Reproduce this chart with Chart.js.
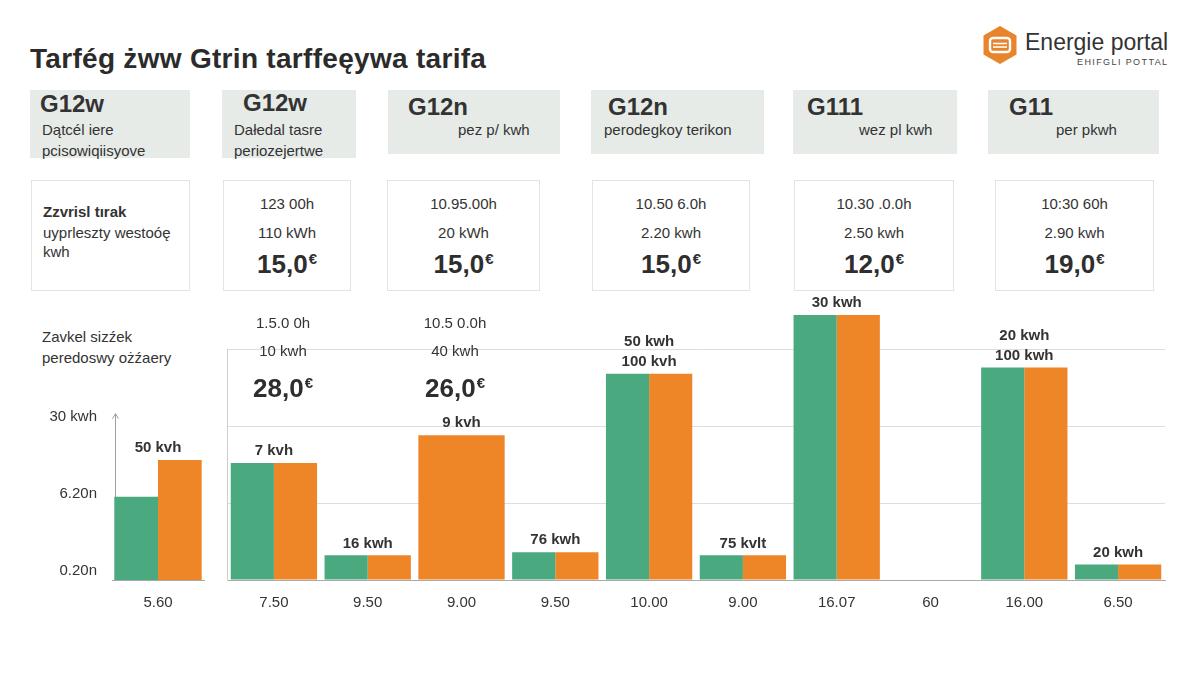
<!DOCTYPE html>
<html><head><meta charset="utf-8">
<script src="https://cdn.jsdelivr.net/npm/chart.js@4/dist/chart.umd.min.js"></script>
<style>
html,body{margin:0;padding:0;background:#fff;}
body{width:1200px;height:675px;position:relative;overflow:hidden;font-family:"Liberation Sans",Arial,sans-serif;color:#333;}
.a{position:absolute;white-space:nowrap;line-height:1;}
.title{left:30px;top:45px;font-size:28px;font-weight:bold;color:#2b2b2b;letter-spacing:0.3px;}
.hbox{position:absolute;background:#e7ebe8;top:90px;}
.code{position:absolute;font-size:24px;font-weight:bold;color:#333;line-height:1;}
.sub{position:absolute;font-size:15px;color:#333;line-height:1;white-space:nowrap;}
.ibox{position:absolute;top:180px;height:111px;border:1px solid #e3e3e3;background:#fff;box-sizing:border-box;}
.c{position:absolute;left:0;right:0;text-align:center;font-size:15px;line-height:1;white-space:nowrap;color:#333;}
.price{font-size:26px;font-weight:bold;color:#2e2e2e;}
.eur{font-size:15px;position:relative;top:-9px;margin-left:1px;}
.chartbox{position:absolute;top:290px;height:340px;}
</style>
</head>
<body>
<div class="a title">Tarfég żww Gtrin tarffeęywa tarifa</div>

<svg class="a" style="left:981px;top:25px" width="38" height="40" viewBox="0 0 38 40">
  <polygon points="19,1 35.5,10.5 35.5,29.5 19,39 2.5,29.5 2.5,10.5" fill="#e8852c"/>
  <rect x="9" y="13" width="20" height="14" rx="3" fill="none" stroke="#fff" stroke-width="2.4"/>
  <line x1="12" y1="18.5" x2="26" y2="18.5" stroke="#fff" stroke-width="1.6"/>
  <line x1="12" y1="22" x2="26" y2="22" stroke="#fff" stroke-width="1.6"/>
</svg>
<div class="a" style="left:1025px;top:31px;font-size:23px;color:#333;">Energie portal</div>
<div class="a" style="left:1077px;top:58px;font-size:9px;letter-spacing:1.4px;color:#444;">EHIFGLI POTTAL</div>

<!-- header boxes -->
<div class="hbox" style="left:30px;width:160px;height:68px;">
  <div class="code" style="left:10px;top:2px;">G12w</div>
  <div class="sub" style="left:12px;top:32px;">Dątcél iere</div>
  <div class="sub" style="left:12px;top:53px;">pcisowiqiisyove</div>
</div>
<div class="hbox" style="left:222px;width:134px;height:68px;">
  <div class="code" style="left:21px;top:1px;">G12w</div>
  <div class="sub" style="left:12px;top:32px;">Dałedal tasre</div>
  <div class="sub" style="left:12px;top:53px;">periozejertwe</div>
</div>
<div class="hbox" style="left:388px;width:172px;height:64px;">
  <div class="code" style="left:20px;top:5px;">G12n</div>
  <div class="sub" style="left:70px;top:32px;">pez p/ kwh</div>
</div>
<div class="hbox" style="left:591px;width:173px;height:64px;">
  <div class="code" style="left:17px;top:5px;">G12n</div>
  <div class="sub" style="left:13px;top:32px;">perodegkoy terikon</div>
</div>
<div class="hbox" style="left:793px;width:164px;height:64px;">
  <div class="code" style="left:14px;top:5px;">G111</div>
  <div class="sub" style="left:66px;top:32px;">wez pl kwh</div>
</div>
<div class="hbox" style="left:988px;width:171px;height:64px;">
  <div class="code" style="left:21px;top:5px;">G11</div>
  <div class="sub" style="left:68px;top:32px;">per pkwh</div>
</div>

<!-- info boxes -->
<div class="ibox" style="left:31px;width:159px;">
  <div class="sub" style="left:11px;top:23px;font-weight:bold;">Zzvrisl tırak</div>
  <div class="sub" style="left:11px;top:44px;">uyprleszty westoóę</div>
  <div class="sub" style="left:11px;top:63px;">kwh</div>
</div>
<div class="ibox" style="left:223px;width:128px;">
  <div class="c" style="top:15px;">123 00h</div>
  <div class="c" style="top:44px;">110 kWh</div>
  <div class="c price" style="top:70px;">15,0<span class="eur">€</span></div>
</div>
<div class="ibox" style="left:387px;width:153px;">
  <div class="c" style="top:15px;">10.95.00h</div>
  <div class="c" style="top:44px;">20 kWh</div>
  <div class="c price" style="top:70px;">15,0<span class="eur">€</span></div>
</div>
<div class="ibox" style="left:592px;width:158px;">
  <div class="c" style="top:15px;">10.50 6.0h</div>
  <div class="c" style="top:44px;">2.20 kwh</div>
  <div class="c price" style="top:70px;">15,0<span class="eur">€</span></div>
</div>
<div class="ibox" style="left:794px;width:160px;">
  <div class="c" style="top:15px;">10.30 .0.0h</div>
  <div class="c" style="top:44px;">2.50 kwh</div>
  <div class="c price" style="top:70px;">12,0<span class="eur">€</span></div>
</div>
<div class="ibox" style="left:995px;width:159px;">
  <div class="c" style="top:15px;">10:30 60h</div>
  <div class="c" style="top:44px;">2.90 kwh</div>
  <div class="c price" style="top:70px;">19,0<span class="eur">€</span></div>
</div>

<!-- left notes -->
<div class="a" style="left:42px;top:329px;font-size:15px;">Zavkel sizźek</div>
<div class="a" style="left:42px;top:350px;font-size:15px;">peredoswy ożźaery</div>

<!-- chart canvases -->
<div class="chartbox" style="left:20px;width:190px;"><canvas id="mini"></canvas></div>
<div class="chartbox" style="left:217px;width:963px;"><canvas id="main"></canvas></div>

<!-- floating blocks over chart -->
<div class="a" style="left:223px;width:120px;top:315px;"><div class="c" style="top:0;">1.5.0 0h</div><div class="c" style="top:28px;">10 kwh</div><div class="c price" style="top:60px;">28,0<span class="eur">€</span></div></div>
<div class="a" style="left:395px;width:120px;top:315px;"><div class="c" style="top:0;">10.5 0.0h</div><div class="c" style="top:28px;">40 kwh</div><div class="c price" style="top:60px;">26,0<span class="eur">€</span></div></div>

<script>
// ---- data ----
const miniCategories = ['5.60'];
const miniGreen = [27];
const miniOrange = [39];
const miniBarLabels = [['50 kvh']];

const categories = ['7.50', '9.50', '9.00', '9.50', '10.00', '9.00', '16.07', '60', '16.00', '6.50'];
const greenValues = [38, 8, null, 9, 67, 8, 86, null, 69, 5];
const orangeValues = [38, 8, 47, 9, 67, 8, 86, null, 69, 5];
const barLabels = [['7 kvh'], ['16 kwh'], ['9 kvh'], ['76 kwh'], ['50 kwh', '100 kvh'], ['75 kvlt'], ['30 kwh'], [], ['20 kwh', '100 kwh'], ['20 kwh']];

const yTickValues = [0, 25, 50];
const yTickLabels = ['0.20n', '6.20n', '30 kwh'];
const yMax = 75;
const arrowTo = 54;

// ---- styles ----
const GREEN = '#4aa97e';
const ORANGE = '#ee8526';
const FONT = '"Liberation Sans", Arial, sans-serif';

const topLabels = {
  id: 'topLabels',
  afterDatasetsDraw(chart, args, opts) {
    const ctx = chart.ctx;
    const xs = chart.scales.x;
    ctx.save();
    ctx.font = 'bold 15px ' + FONT;
    ctx.fillStyle = '#333';
    ctx.textAlign = 'center';
    ctx.textBaseline = 'middle';
    (opts.labels || []).forEach((lines, i) => {
      let top = Infinity;
      chart.data.datasets.forEach((ds, di) => {
        const el = chart.getDatasetMeta(di).data[i];
        if (el && ds.data[i] != null) top = Math.min(top, el.y);
      });
      if (!isFinite(top) || !lines.length) return;
      const x = xs.getPixelForValue(i);
      lines.forEach((t, k) => {
        ctx.fillText(t, x, top - 12 - (lines.length - 1 - k) * 20);
      });
    });
    ctx.restore();
  }
};

const axisArrow = {
  id: 'axisArrow',
  beforeDatasetsDraw(chart, args, opts) {
    if (opts.to == null) return;
    const {ctx, chartArea, scales} = chart;
    const x = Math.round(chartArea.left + 3) + 0.5;
    const yTop = scales.y.getPixelForValue(opts.to);
    ctx.save();
    ctx.strokeStyle = '#a0a0a0';
    ctx.lineWidth = 1;
    ctx.beginPath(); ctx.moveTo(x, chartArea.bottom); ctx.lineTo(x, yTop); ctx.stroke();
    ctx.beginPath(); ctx.moveTo(x - 3, yTop + 5); ctx.lineTo(x, yTop); ctx.lineTo(x + 3, yTop + 5); ctx.stroke();
    ctx.restore();
  }
};

const xAxis = {
  grid: {color: 'rgba(0,0,0,0)', drawTicks: false},
  border: {color: '#a9a9a9'},
  ticks: {color: '#333', font: {size: 15, family: FONT}, padding: 14, maxRotation: 0, autoSkip: false},
  afterFit(s) { s.height = 50; }
};

function dataset(label, values, color, catPct) {
  return {label, data: values, backgroundColor: color, borderWidth: 0,
          categoryPercentage: catPct, barPercentage: 1, clip: false, skipNull: true};
}

new Chart(document.getElementById('mini'), {
  type: 'bar',
  data: {labels: miniCategories, datasets: [
    dataset('A', miniGreen, GREEN, 0.95),
    dataset('B', miniOrange, ORANGE, 0.95)
  ]},
  options: {
    responsive: true, maintainAspectRatio: false, animation: false,
    layout: {padding: {left: 0, right: 6, top: 59, bottom: 0}},
    plugins: {legend: {display: false}, tooltip: {enabled: false},
              topLabels: {labels: miniBarLabels}, axisArrow: {to: arrowTo}},
    scales: {
      x: xAxis,
      y: {min: 0, max: yMax,
          grid: {display: false, drawTicks: false},
          border: {display: false},
          ticks: {stepSize: 25, color: '#333', font: {size: 15, family: FONT}, padding: 15, labelOffset: -9,
                  callback: (v) => { const i = yTickValues.indexOf(v); return i >= 0 ? yTickLabels[i] : ''; }},
          afterFit(s) { s.width = 92; }}
    }
  },
  plugins: [topLabels, axisArrow]
});

new Chart(document.getElementById('main'), {
  type: 'bar',
  data: {labels: categories, datasets: [
    dataset('A', greenValues, GREEN, 0.92),
    dataset('B', orangeValues, ORANGE, 0.92)
  ]},
  options: {
    responsive: true, maintainAspectRatio: false, animation: false,
    layout: {padding: {left: 10, right: 15, top: 59, bottom: 0}},
    plugins: {legend: {display: false}, tooltip: {enabled: false}, topLabels: {labels: barLabels}},
    scales: {
      x: xAxis,
      y: {min: 0, max: yMax,
          grid: {color: '#dedede', drawTicks: false},
          border: {color: '#cdcdcd'},
          ticks: {display: false, stepSize: 25},
          afterFit(s) { s.width = 0; }}
    }
  },
  plugins: [topLabels]
});
</script>
</body></html>
